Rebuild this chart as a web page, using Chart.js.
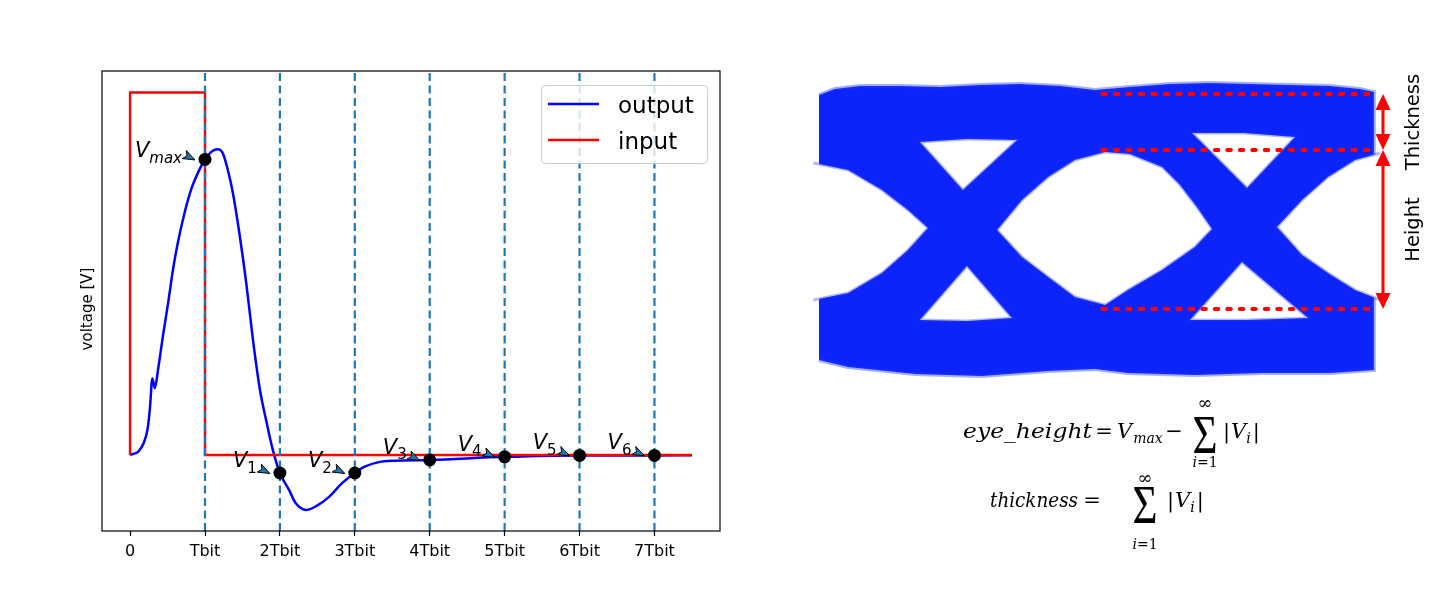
<!DOCTYPE html>
<html>
<head>
<meta charset="utf-8">
<script src="https://cdn.jsdelivr.net/npm/chart.js@4.4.0/dist/chart.umd.min.js"></script>
<style>
  html, body { margin: 0; padding: 0; background: #fff; width: 1442px; height: 598px; overflow: hidden; }
  #pulse { position: absolute; left: 0; top: 0; }
  #eye { position: absolute; left: 800px; top: 0; }
</style>
</head>
<body>
<canvas id="pulse" width="760" height="598"></canvas>
<canvas id="eye" width="642" height="598"></canvas>
<script>
// ---- pulse response (x in bit periods, y in volts, normalised) ----
const tickVals = [0, 1, 2, 3, 4, 5, 6, 7];
const tickLabels = ['0', 'Tbit', '2Tbit', '3Tbit', '4Tbit', '5Tbit', '6Tbit', '7Tbit'];
const seriesNames = ['output', 'input'];

const outT = [0, 0.05, 0.11, 0.18, 0.235, 0.265, 0.297, 0.33, 0.376, 0.44, 0.51, 0.575, 0.64, 0.73, 0.82, 0.91,
  1.0, 1.09, 1.17, 1.24, 1.30, 1.37, 1.46, 1.55, 1.64, 1.73, 1.82, 1.90,
  2.0, 2.12, 2.21, 2.35, 2.48, 2.66, 2.83, 3.0, 3.14, 3.32, 3.54, 4.0, 5.0, 6.0, 7.0, 7.5];
const outV = [0, 0.003, 0.009, 0.032, 0.073, 0.129, 0.211, 0.184, 0.239, 0.33, 0.422, 0.514, 0.588, 0.67, 0.735, 0.78,
  0.815, 0.837, 0.843, 0.831, 0.79, 0.725, 0.61, 0.475, 0.318, 0.184, 0.092, 0.018,
  -0.05, -0.096, -0.133, -0.152, -0.142, -0.115, -0.078, -0.05, -0.032, -0.02, -0.016, -0.014, -0.0055, -0.0014, -0.0014, -0.001];

const inT = [0, 0, 1, 1, 7.5];
const inV = [0, 1, 1, 0, 0];

const sampleT = [1, 2, 3, 4, 5, 6, 7];
const sampleV = [0.815, -0.05, -0.05, -0.014, -0.0055, -0.0014, -0.0014];
const sampleSub = ['max', '1', '2', '3', '4', '5', '6'];

// ---- eye diagram (t in unit intervals, v in arbitrary volts) ----
const eyeOuter = [[0, 1.33], [0.056, 1.39], [0.144, 1.42], [0.284, 1.42], [0.425, 1.41], [0.565, 1.43], [0.705, 1.44],
  [0.846, 1.42], [0.968, 1.38], [1.091, 1.41], [1.232, 1.44], [1.372, 1.45], [1.512, 1.44], [1.653, 1.43],
  [1.793, 1.42], [1.898, 1.39], [1.947, 1.36], [1.947, -1.42], [1.793, -1.45], [1.554, -1.45], [1.319, -1.47],
  [1.084, -1.45], [0.968, -1.41], [0.804, -1.43], [0.572, -1.48], [0.337, -1.46], [0.102, -1.39], [0, -1.32]];
const holeLeft = [[-0.02, 0.65], [0.102, 0.58], [0.221, 0.38], [0.312, 0.18], [0.382, 0.0], [0.312, -0.22],
  [0.221, -0.45], [0.102, -0.65], [-0.02, -0.72]];
const holeMid = [[0.625, -0.02], [0.712, 0.28], [0.804, 0.51], [0.898, 0.68], [1.004, 0.76], [1.091, 0.74],
  [1.204, 0.61], [1.267, 0.43], [1.326, 0.21], [1.379, -0.01], [1.319, -0.19], [1.204, -0.42], [1.084, -0.62],
  [1.004, -0.77], [0.898, -0.69], [0.804, -0.49], [0.712, -0.29], [0.625, -0.02]];
const holeRight = [[1.97, 0.75], [1.881, 0.68], [1.786, 0.51], [1.695, 0.28], [1.607, 0.01], [1.695, -0.27],
  [1.786, -0.45], [1.881, -0.62], [1.97, -0.72]];
const holeUL = [[0.354, 0.86], [0.52, 0.89], [0.695, 0.88], [0.505, 0.38], [0.354, 0.86]];
const holeLL = [[0.519, -0.38], [0.677, -0.90], [0.52, -0.93], [0.354, -0.92], [0.519, -0.38]];
const holeUR = [[1.309, 0.95], [1.49, 0.95], [1.670, 0.91], [1.502, 0.40], [1.309, 0.95]];
const holeLR = [[1.484, -0.34], [1.716, -0.90], [1.50, -0.92], [1.302, -0.92], [1.484, -0.34]];
const eyeLevels = [1.34, 0.78, -0.81];
const levelSpan = [0.994, 1.947];
const arrowT = 1.979;
const arrowNames = ['Thickness', 'Height'];

// ------------------------------------------------------------
const xy = (xs, ys) => xs.map((x, i) => ({ x, y: ys[i] }));
const pts = arr => arr.map(([x, y]) => ({ x, y }));

Chart.defaults.font.family = '"DejaVu Sans", sans-serif';
Chart.defaults.color = '#000';

const X_MIN = -0.375, X_MAX = 7.875, Y_MIN = -0.21, Y_MAX = 1.059;

const vlines = tickVals.slice(1).map(t => ({
  data: [{ x: t, y: Y_MIN }, { x: t, y: Y_MAX }],
  showLine: true, borderColor: '#1f77b4', borderWidth: 2.2, borderDash: [8, 4.5],
  pointRadius: 0, order: 2
}));

const pulseDecor = {
  id: 'pulseDecor',
  afterDraw(chart) {
    const { ctx, chartArea: a, scales: { x, y } } = chart;
    ctx.save();
    // frame
    ctx.strokeStyle = '#000';
    ctx.lineWidth = 1.2;
    ctx.strokeRect(a.left, a.top, a.right - a.left, a.bottom - a.top);

    // y label
    ctx.fillStyle = '#000';
    ctx.font = '15px "DejaVu Sans"';
    ctx.textAlign = 'center';
    ctx.save();
    ctx.translate(92, 309);
    ctx.rotate(-Math.PI / 2);
    ctx.fillText('voltage [V]', 0, 0);
    ctx.restore();

    // sample annotations
    ctx.textAlign = 'left';
    sampleT.forEach((t, i) => {
      const px = x.getPixelForValue(t), py = y.getPixelForValue(sampleV[i]);
      const sub = sampleSub[i];
      const vFont = 'italic 21px "DejaVu Sans"';
      const sFont = (isNaN(+sub) ? 'italic ' : '') + '15px "DejaVu Sans"';
      ctx.font = vFont; const wV = ctx.measureText('V').width;
      ctx.font = sFont; const wS = ctx.measureText(sub).width;
      const base = py + (i === 0 ? -2 : -6);
      const left = px - 23 - wV - wS;
      ctx.fillStyle = '#000';
      ctx.font = vFont; ctx.fillText('V', left, base);
      ctx.font = sFont; ctx.fillText(sub, left + wV, base + 5.5);
      // arrow head
      const tx = px - 10, ty = py + 0.5, dx = 0.89, dy = 0.45, L = 12, W = 4.5;
      const bx = tx - L * dx, by = ty - L * dy;
      ctx.beginPath();
      ctx.moveTo(tx, ty);
      ctx.lineTo(bx - W * dy, by + W * dx);
      ctx.lineTo(bx + 3 * dx, by + 3 * dy);
      ctx.lineTo(bx + W * dy, by - W * dx);
      ctx.closePath();
      ctx.fillStyle = '#1f77b4';
      ctx.fill();
      ctx.strokeStyle = '#000';
      ctx.lineWidth = 1;
      ctx.stroke();
    });

    // legend
    ctx.beginPath();
    ctx.roundRect(541.5, 85.5, 166, 78, 4);
    ctx.fillStyle = 'rgba(255,255,255,0.8)';
    ctx.fill();
    ctx.strokeStyle = '#cccccc';
    ctx.lineWidth = 1;
    ctx.stroke();
    ctx.font = '23px "DejaVu Sans"';
    [0, 1].forEach(k => {
      const ly = 104 + k * 36;
      ctx.strokeStyle = chart.data.datasets[k].borderColor;
      ctx.lineWidth = 2.5;
      ctx.beginPath(); ctx.moveTo(548, ly); ctx.lineTo(599, ly); ctx.stroke();
      ctx.fillStyle = '#000';
      ctx.fillText(seriesNames[k], 618, ly + 8.5);
    });
    ctx.restore();
  }
};

new Chart(document.getElementById('pulse'), {
  type: 'scatter',
  data: {
    datasets: [
      { label: seriesNames[0], data: xy(outT, outV), showLine: true, borderColor: '#0000ff', borderWidth: 2.5,
        pointRadius: 0, cubicInterpolationMode: 'monotone', order: 4 },
      { label: seriesNames[1], data: xy(inT, inV), showLine: true, borderColor: '#ff0000', borderWidth: 2.5,
        pointRadius: 0, order: 3 },
      ...vlines,
      { label: 'samples', data: xy(sampleT, sampleV), pointRadius: 6.5, backgroundColor: '#000',
        borderColor: '#000', borderWidth: 0, order: 1 }
    ]
  },
  options: {
    responsive: false, animation: false, devicePixelRatio: 1, events: [],
    layout: { padding: { top: 71, right: 40, bottom: 0, left: 0 } },
    plugins: { legend: { display: false }, tooltip: { enabled: false } },
    scales: {
      x: {
        type: 'linear', min: X_MIN, max: X_MAX,
        afterBuildTicks: s => { s.ticks = tickVals.map(v => ({ value: v })); },
        afterFit: s => { s.height = 67; },
        ticks: { callback: (v, i) => tickLabels[i], autoSkip: false, maxRotation: 0, padding: 6,
          color: '#000', font: { size: 16 } },
        grid: { display: true, drawOnChartArea: false, drawTicks: true, tickLength: 5,
          tickColor: '#000', tickWidth: 1.2 },
        border: { display: false }
      },
      y: {
        type: 'linear', min: Y_MIN, max: Y_MAX,
        afterFit: s => { s.width = 102; },
        ticks: { display: false },
        grid: { display: false },
        border: { display: false }
      }
    }
  },
  plugins: [pulseDecor]
});

// ---------------- eye diagram ----------------
const eyeBlue = 'rgb(12,36,250)';
const holeSet = arr => ({
  data: pts(arr), showLine: true, fill: 'shape', backgroundColor: '#ffffff',
  borderColor: 'rgba(40,60,250,0.35)', borderWidth: 3, pointRadius: 0, tension: 0, order: 5
});

const serif = '"DejaVu Serif", serif';
function put(ctx, s, x, base, font, w, center) {
  ctx.font = font;
  const nat = ctx.measureText(s).width;
  const sx = w ? w / nat : 1;
  const x0 = center ? x - nat * sx / 2 : x;
  ctx.save();
  ctx.translate(x0, base);
  ctx.scale(sx, 1);
  ctx.fillText(s, 0, 0);
  ctx.restore();
  return x0 + nat * sx;
}
function sumSign(ctx, cx, infBase, sigBase, limBase) {
  put(ctx, '\u221E', cx, infBase, '18px ' + serif, 0, true);
  put(ctx, '\u03A3', cx, sigBase, '54px "Liberation Serif", serif', 25, true);
  ctx.font = 'italic 14px ' + serif; const wi = ctx.measureText('i').width;
  ctx.font = '14px ' + serif; const we = ctx.measureText('=1').width;
  const x0 = cx - (wi + we) / 2;
  put(ctx, 'i', x0, limBase, 'italic 14px ' + serif);
  put(ctx, '=1', x0 + wi, limBase, '14px ' + serif);
}
function absV(ctx, x, base) {
  let e = put(ctx, '|', x, base, '21px ' + serif);
  e = put(ctx, 'V', e + 1, base, 'italic 21px ' + serif);
  e = put(ctx, 'i', e, base + 5, 'italic 14px ' + serif);
  put(ctx, '|', e + 2, base, '21px ' + serif);
}
function arrow(ctx, x, y1, y2) {
  const H = 16, W = 7.5;
  ctx.beginPath(); ctx.moveTo(x, y1 + H - 2); ctx.lineTo(x, y2 - H + 2); ctx.stroke();
  ctx.beginPath(); ctx.moveTo(x, y1); ctx.lineTo(x - W, y1 + H); ctx.lineTo(x + W, y1 + H); ctx.closePath(); ctx.fill();
  ctx.beginPath(); ctx.moveTo(x, y2); ctx.lineTo(x - W, y2 - H); ctx.lineTo(x + W, y2 - H); ctx.closePath(); ctx.fill();
}

const eyeDecor = {
  id: 'eyeDecor',
  afterDraw(chart) {
    const { ctx, scales: { x, y } } = chart;
    const ax = x.getPixelForValue(arrowT);
    const lv = eyeLevels.map(v => y.getPixelForValue(v));
    ctx.save();
    ctx.fillStyle = '#ff0000';
    ctx.strokeStyle = '#ff0000';
    ctx.lineWidth = 3;
    arrow(ctx, ax, lv[0], lv[1]);
    arrow(ctx, ax, lv[1], lv[2]);

    ctx.fillStyle = '#000';
    ctx.font = '19.5px "DejaVu Sans"';
    ctx.textAlign = 'center';
    arrowNames.forEach((s, k) => {
      ctx.save();
      ctx.translate(ax + 36, (lv[k] + lv[k + 1]) / 2);
      ctx.rotate(-Math.PI / 2);
      ctx.fillText(s, 0, 0);
      ctx.restore();
    });

    // formulas (page x minus 800)
    ctx.textAlign = 'left';
    put(ctx, 'eye_height', 163, 438, 'italic 21px ' + serif, 129);
    put(ctx, '=', 304, 438, '21px ' + serif, 0, true);
    let e = put(ctx, 'V', 317, 438, 'italic 21px ' + serif);
    put(ctx, 'max', e + 1, 443, 'italic 14px ' + serif);
    put(ctx, '\u2212', 374, 438, '21px ' + serif, 0, true);
    sumSign(ctx, 405, 409, 453, 467);
    absV(ctx, 423, 438);

    put(ctx, 'thickness', 190, 507, 'italic 21px ' + serif, 88);
    put(ctx, '=', 292, 507, '21px ' + serif, 0, true);
    sumSign(ctx, 345, 484, 523, 549);
    absV(ctx, 367, 507);
    ctx.restore();
  }
};

new Chart(document.getElementById('eye'), {
  type: 'scatter',
  data: {
    datasets: [
      { data: pts(eyeOuter), showLine: true, fill: 'shape', backgroundColor: eyeBlue,
        borderColor: 'rgba(30,55,250,0.4)', borderWidth: 4, pointRadius: 0, tension: 0, order: 10 },
      holeSet(holeLeft), holeSet(holeMid), holeSet(holeRight),
      holeSet(holeUL), holeSet(holeLL), holeSet(holeUR), holeSet(holeLR),
      ...eyeLevels.map(v => ({
        data: [{ x: levelSpan[0], y: v }, { x: levelSpan[1], y: v }],
        showLine: true, borderColor: '#ff0000', borderWidth: 4, borderDash: [3.5, 9],
        borderCapStyle: 'round', pointRadius: 0, order: 1
      }))
    ]
  },
  options: {
    responsive: false, animation: false, devicePixelRatio: 1, events: [],
    layout: { padding: 0 },
    plugins: { legend: { display: false }, tooltip: { enabled: false } },
    scales: {
      x: { type: 'linear', display: false, min: -0.0667, max: 2.186 },
      y: { type: 'linear', display: false, min: -3.70, max: 2.28 }
    }
  },
  plugins: [eyeDecor]
});
</script>
</body>
</html>
